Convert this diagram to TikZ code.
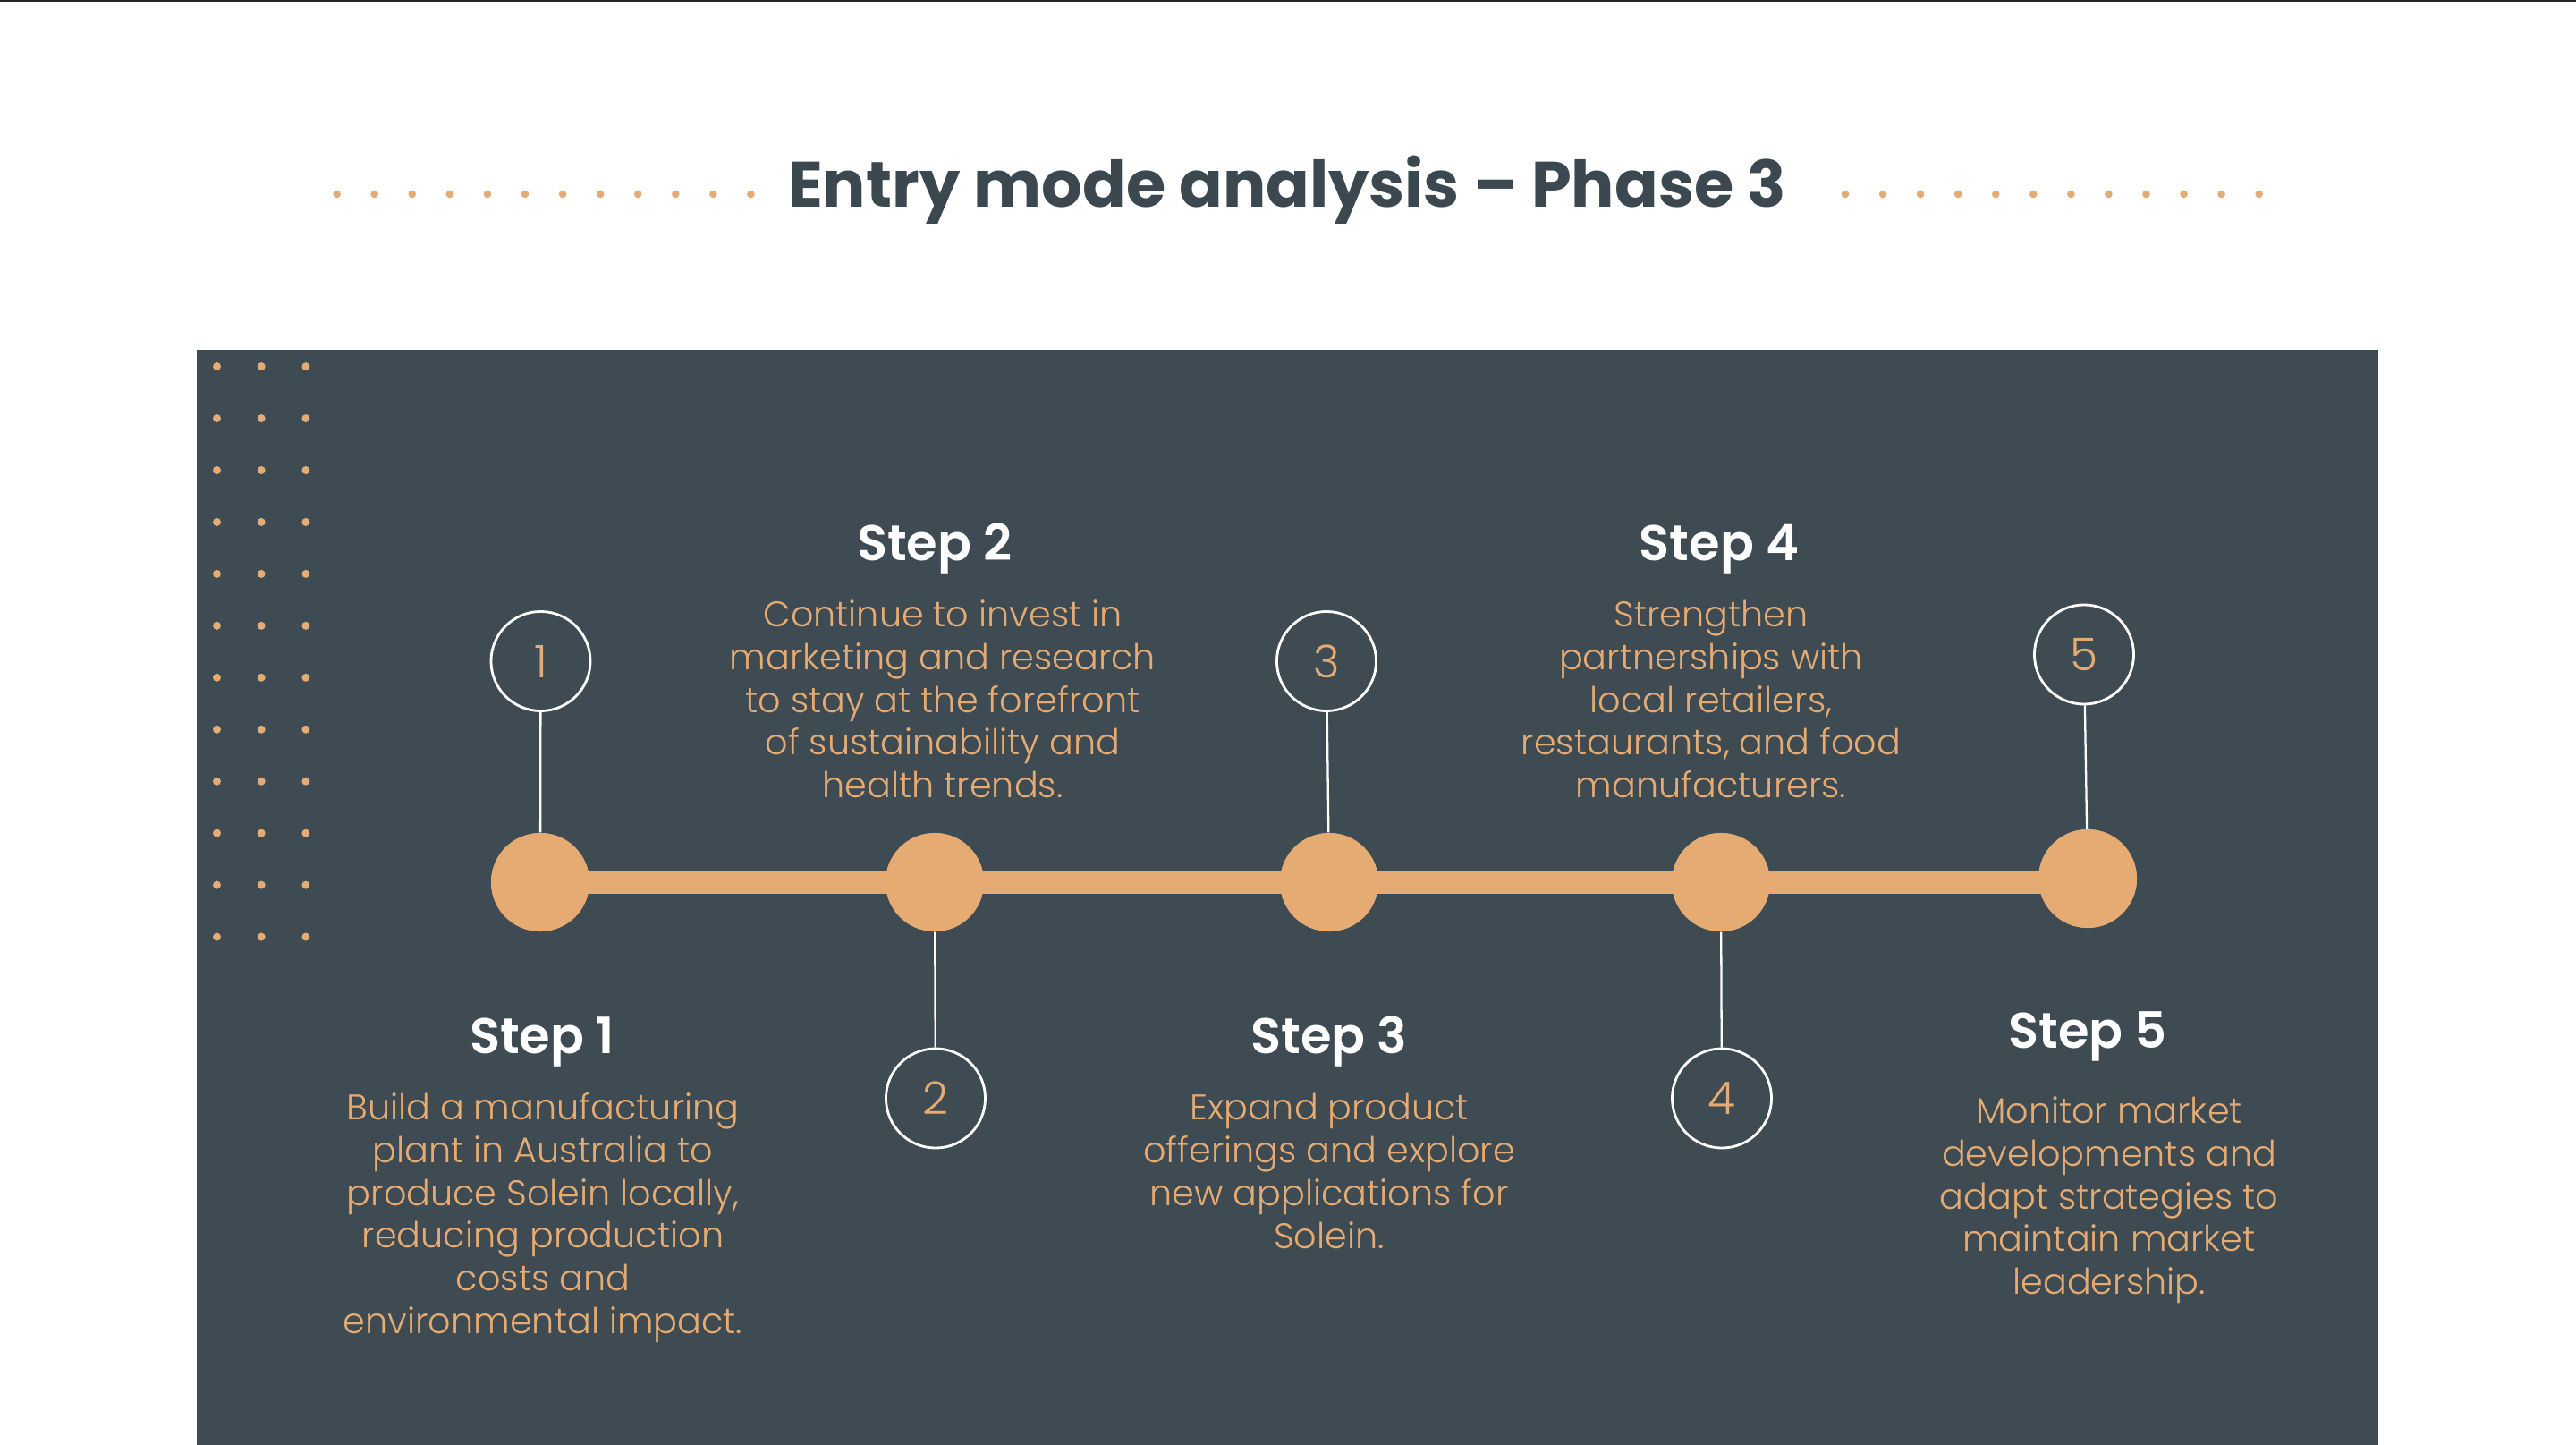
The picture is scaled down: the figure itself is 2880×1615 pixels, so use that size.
\documentclass[tikz,border=0pt]{standalone}
\usepackage{fontspec}
\setmainfont{Poppins}[UprightFont={* Light}, BoldFont={* SemiBold}]
\newfontfamily\titlefont{Poppins}[UprightFont={* Bold}]
\definecolor{panel}{HTML}{3E4B52}
\definecolor{accent}{HTML}{E5AB73}
\definecolor{titlecol}{HTML}{3B4850}
\tikzset{
  bigdot/.style={circle, fill=accent, minimum size=1.1cm, inner sep=0pt},
  numcirc/.style={circle, draw=white, line width=0.8pt, minimum size=1.11cm, inner sep=0pt,
    text=accent, font=\fontsize{14.3pt}{17pt}\selectfont},
  stem/.style={draw=white, line width=0.65pt},
  heading/.style={anchor=base, text=white, font=\bfseries\fontsize{15.9pt}{19pt}\selectfont, inner sep=0pt},
  body/.style={anchor=base, align=center, text=accent, font=\fontsize{11.3pt}{13.58pt}\selectfont, inner sep=0pt},
  smalldot/.style={fill=accent}
}
\begin{document}
\begin{tikzpicture}[x=0.01cm, y=-0.01cm]
\useasboundingbox (0,0) rectangle (2880,1615);
\fill[white] (0,0) rectangle (2880,1615);
\fill[black!85] (0,0) rectangle (2880,2);
% title
\node[anchor=base, text=titlecol, font=\titlefont\fontsize{20.4pt}{24pt}\selectfont, inner sep=0pt] (title) at (1439,231) {Entry mode analysis – Phase 3};
\foreach \i in {0,...,11} {
  \fill[smalldot] (376.6+42.08*\i,217) circle[radius=4.3];
  \fill[smalldot] (2063+42.06*\i,217) circle[radius=4.3];
}
% panel
\fill[panel] (220,391) rectangle (2659,1615);
\foreach \r in {0,...,11} {
  \foreach \c in {0,1,2} {
    \fill[smalldot] (242.5+49.7*\c,409.6+57.95*\r) circle[radius=4.5];
  }
}
% big circles
\node[bigdot] (b1) at (604,986) {};
\node[bigdot] (b2) at (1045,986) {};
\node[bigdot] (b3) at (1486,986) {};
\node[bigdot] (b4) at (1924,986) {};
\node[bigdot] (b5) at (2334,982) {};
\draw[accent, line width=7.4pt] (b1.center) -- (b1.center -| b5.center);
\node[bigdot] at (b1.center) {};
\node[bigdot] at (b2.center) {};
\node[bigdot] at (b3.center) {};
\node[bigdot] at (b4.center) {};
\node[bigdot] at (b5.center) {};
% number circles
\node[numcirc] (n1) at (604.5,739) {1};
\node[numcirc] (n2) at (1046,1227.5) {2};
\node[numcirc] (n3) at (1483,739) {3};
\node[numcirc] (n4) at (1925,1227.5) {4};
\node[numcirc] (n5) at (2330,731.5) {5};
\draw[stem] (n1) -- (b1);
\draw[stem] (n2) -- (b2);
\draw[stem] (n3) -- (b3);
\draw[stem] (n4) -- (b4);
\draw[stem] (n5) -- (b5);
% headings
\node[heading] (h1) at (606,1177) {Step 1};
\node[heading] (h2) at (1045,626) {Step 2};
\node[heading] (h3) at (1486,1177) {Step 3};
\node[heading] (h4) at (1922,626) {Step 4};
\node[heading] (h5) at (2334,1171) {Step 5};
% bodies (anchored at baseline of last line)
\node[body] (t1) at (607,1490.5) {Build a manufacturing\\plant in Australia to\\produce Solein locally,\\reducing production\\costs and\\environmental impact.};
\node[body] (t2) at (1054,891.7) {Continue to invest in\\marketing and research\\to stay at the forefront\\of sustainability and\\health trends.};
\node[body] (t3) at (1486,1395) {Expand product\\offerings and explore\\new applications for\\Solein.};
\node[body] (t4) at (1913,891.7) {Strengthen\\partnerships with\\local retailers,\\restaurants, and food\\manufacturers.};
\node[body] (t5) at (2358,1446.7) {Monitor market\\developments and\\adapt strategies to\\maintain market\\leadership.};
\end{tikzpicture}
\end{document}
